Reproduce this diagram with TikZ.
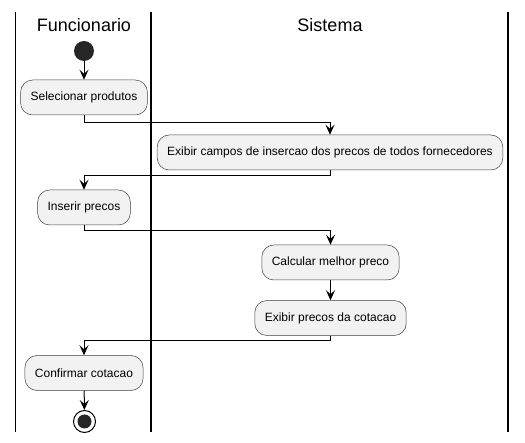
\documentclass[tikz,border=0pt]{standalone}
\usepackage{fontspec}
\setmainfont{Liberation Sans}
\usetikzlibrary{arrows.meta}

\begin{document}
\begin{tikzpicture}[x=1pt,y=-1pt,
  act/.style={draw=black!75,line width=0.5pt,fill=black!5,rounded corners=12,minimum height=35pt,inner xsep=10pt,font=\fontsize{12}{14}\selectfont},
  flow/.style={line width=1pt,-{Stealth[length=10pt,width=9pt,inset=4pt]}},
  lane/.style={line width=1.5pt},
  head/.style={font=\fontsize{18}{21}\selectfont,anchor=base},
  inicio/.style={circle,fill=black!85,minimum size=20pt,inner sep=0},
  fim/.style={circle,draw,line width=1pt,minimum size=22pt,inner sep=0,path picture={\fill[black!85] (path picture bounding box.center) circle (7pt);}}]

\useasboundingbox [fill=white] (0,0) rectangle (525,443);

\draw [lane] (15.5,12) -- (15.5,432);
\draw [lane] (151,12) -- (151,432);
\draw [lane] (508,12) -- (508,432);

\node [head] (hfunc) at (84,32) {Funcionario};
\node [head] (hsis) at (330,32) {Sistema};

\node [inicio] (ini) at (84,51) {};
\node [act] (sel) at (84,97.5) {Selecionar produtos};
\node [act] (campos) at (330,152.5) {Exibir campos de insercao dos precos de todos fornecedores};
\node [act] (ins) at (84,207.5) {Inserir precos};
\node [act] (calc) at (330.5,262.5) {Calcular melhor preco};
\node [act] (exib) at (330.5,318) {Exibir precos da cotacao};
\node [act] (conf) at (84,373) {Confirmar cotacao};
\node [fim] (fim) at (84.5,421.5) {};

\draw [flow] (ini) -- (sel);
\draw [flow] (sel.south) -- ++(0,7) -| (campos.north);
\draw [flow] (campos.south) -- ++(0,5) -| (ins.north);
\draw [flow] (ins.south) -- ++(0,5) -| (calc.north);
\draw [flow] (calc) -- (exib);
\draw [flow] (exib.south) -- ++(0,5) -| (conf.north);
\draw [flow] (conf) -- (fim);

\end{tikzpicture}
\end{document}
